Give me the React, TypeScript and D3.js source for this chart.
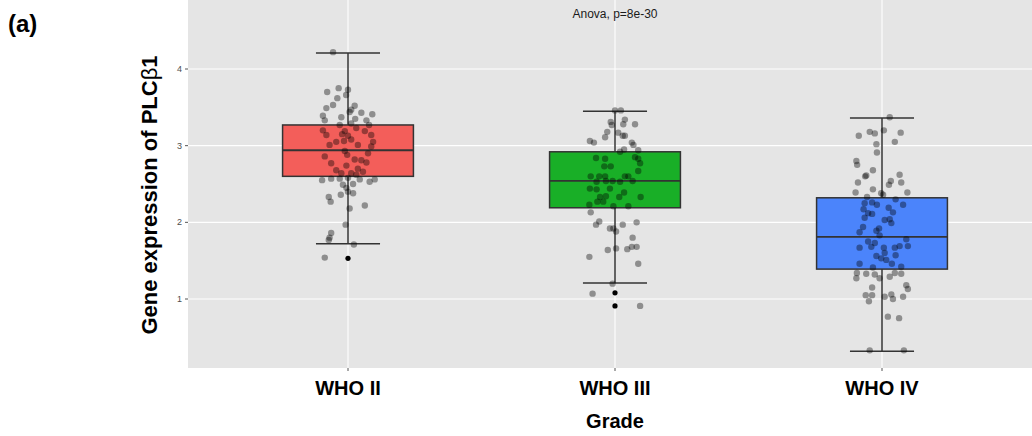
import React, { useRef, useEffect } from 'react';
import * as d3 from 'd3';

const categories = ['WHO II', 'WHO III', 'WHO IV'];
const fills = ['#F35E5A', '#19AF27', '#4B84FB'];
const yTicks = [1, 2, 3, 4];

// box stats: [whisker low, q1, median, q3, whisker high]
const boxStats = [
  [1.72, 2.60, 2.94, 3.27, 4.21],
  [1.21, 2.19, 2.54, 2.92, 3.45],
  [0.32, 1.39, 1.81, 2.32, 3.36],
];
const outliers = [[1.53], [1.08, 0.91], []];

// jittered points, values and their jitter (-1..1 of the jitter width)
const whoIIValues = [4.22, 3.70, 3.75, 3.73, 3.66, 3.62, 3.53, 3.52, 3.49, 3.47, 3.44, 3.43, 3.41, 3.39, 3.37, 3.35, 3.33, 3.33, 3.29, 3.27, 3.27, 3.23, 3.20, 3.19, 3.19, 3.14, 3.15, 3.13, 3.14, 3.05, 3.08, 3.06, 3.05, 3.01, 3.01, 2.99, 2.93, 2.90, 2.86, 2.88, 2.82, 2.81, 2.78, 2.77, 2.74, 2.70, 2.68, 2.66, 2.64, 2.64, 2.62, 2.55, 2.57, 2.57, 2.58, 2.56, 2.53, 2.56, 2.49, 2.50, 2.45, 2.36, 2.38, 2.40, 2.33, 2.27, 2.18, 2.22, 1.97, 1.86, 1.80, 1.77, 1.71, 1.54];
const whoIIJitter = [-0.56, -0.78, -0.35, 0, -0.07, -0.40, -0.56, 0.25, -0.81, 0.12, 0.06, 0.50, 0.91, -0.94, -0.25, 0.27, -0.87, 0.69, 0.12, -0.31, 0.79, 0.31, -0.94, -0.12, 0.63, -0.81, -0.22, 0, 0.87, -0.44, 0.12, -0.15, 0.94, -0.69, 0.37, 0.87, -0.12, 0.75, -0.87, -0.03, 0.25, 0.50, 0.69, -0.63, -0.06, 0.37, -0.44, 0.56, -0.25, 0.12, 0.31, -0.97, -0.63, -0.31, 0, 0.44, 0.81, 1.0, -0.19, 0.19, -0.06, -0.27, 0.19, 0, -0.72, -0.65, 0.06, 0.63, -0.09, -0.63, -0.69, -0.72, 0.22, -0.87];

const whoIIIValues = [3.46, 3.46, 3.34, 3.31, 3.27, 3.28, 3.28, 3.18, 3.17, 3.13, 3.13, 3.11, 3.06, 3.04, 3.04, 3.01, 2.95, 2.92, 2.94, 2.84, 2.83, 2.85, 2.83, 2.77, 2.73, 2.73, 2.67, 2.60, 2.60, 2.60, 2.60, 2.60, 2.53, 2.54, 2.54, 2.53, 2.54, 2.44, 2.44, 2.43, 2.33, 2.34, 2.39, 2.33, 2.33, 2.27, 2.27, 2.23, 2.21, 2.21, 2.13, 2.01, 1.97, 1.92, 1.92, 1.97, 2.00, 1.88, 1.80, 1.68, 1.68, 1.65, 1.66, 1.64, 1.55, 1.46, 1.20, 1.07, 0.91];
const whoIIIJitter = [0, 0.22, 0.37, -0.16, -0.12, 0.31, 0.75, -0.29, 0.12, 0.29, 0.37, -0.37, -0.94, -0.79, 0.63, 0.69, 0.34, 0.19, 0.87, -0.71, -0.37, 0.75, 0.87, 0.94, -0.40, -0.16, 0.87, -0.91, -0.59, -0.37, 0.37, 0.50, -0.69, -0.34, -0.09, 0.19, 0.66, -0.94, -0.19, -0.69, -0.56, -0.34, 0.34, 0.16, 0.96, -0.66, -0.44, -0.96, -0.06, 0.50, -0.91, -0.59, -0.71, -0.19, -0.06, 0.29, 0.81, 0.04, 0.66, 0.63, 0.81, 0.46, 0.04, -0.27, -0.96, 0.87, -0.09, -0.84, 0.94];

const whoIVValues = [3.37, 3.13, 3.18, 3.16, 3.20, 3.17, 3.05, 3.02, 2.91, 2.80, 2.75, 2.68, 2.61, 2.60, 2.62, 2.52, 2.54, 2.52, 2.49, 2.43, 2.39, 2.38, 2.39, 2.33, 2.36, 2.30, 2.25, 2.26, 2.23, 2.23, 2.17, 2.19, 2.12, 2.11, 2.13, 2.06, 2.03, 2.04, 1.99, 1.94, 1.92, 1.87, 1.89, 1.83, 1.78, 1.75, 1.73, 1.68, 1.67, 1.67, 1.67, 1.69, 1.69, 1.56, 1.60, 1.57, 1.53, 1.51, 1.46, 1.46, 1.42, 1.41, 1.34, 1.33, 1.32, 1.33, 1.34, 1.27, 1.27, 1.29, 1.18, 1.13, 1.15, 1.05, 1.05, 0.97, 1.03, 1.06, 1.00, 1.03, 0.77, 0.75, 0.33, 0.33];
const whoIVJitter = [0.29, -0.87, -0.46, -0.27, 0.07, 0.70, 0.48, -0.21, -0.19, -0.96, -0.93, -0.34, -0.59, -0.63, 0.66, -0.90, 0.33, 0.72, 0.26, -0.34, -0.99, -0.03, 0.95, -0.56, 0.04, 0.51, -0.65, -0.37, -0.19, 0.79, -0.69, 0.25, -0.52, -0.37, 0.41, -0.65, 0.10, 0.29, 0.35, -0.71, -0.11, -0.84, -0.21, -0.09, 0.91, -0.52, -0.27, -0.40, -0.84, 0.07, 0.48, 0.66, 0.97, -0.21, 0.10, 0.51, -0.03, 0.16, 0.37, -0.84, 0.72, -0.34, -0.94, -0.59, -0.27, 0.72, 0.48, -0.96, -0.09, 0.29, 0.91, 0.97, -0.37, -0.61, -0.37, -0.49, 0.10, 0.35, 0.41, 0.79, 0.22, 0.64, -0.46, 0.82];

const pointValues = [whoIIValues, whoIIIValues, whoIVValues];
const pointJitter = [whoIIJitter, whoIIIJitter, whoIVJitter];

const font = "'Liberation Sans', Arial, sans-serif";

const BoxChart = () => {
  const chartRef = useRef<HTMLDivElement>(null);

  useEffect(() => {
    const W = 1032;
    const H = 436;
    const panel = { left: 188, right: 1032, top: 0, bottom: 368 };

    d3.select(chartRef.current).select('svg').remove();
    const svg = d3
      .select(chartRef.current)
      .append('svg')
      .attr('width', W)
      .attr('height', H)
      .style('position', 'absolute')
      .style('left', 0)
      .style('top', 0)
      .style('font-family', font);

    const xScale = d3.scalePoint<string>().domain(categories).range([348, 882]);
    const step = xScale.step();
    const yScale = d3.scaleLinear().domain([0.1, 4.9]).range([panel.bottom, panel.top]);

    const boxW = step * 0.49;
    const capW = step * 0.24;
    const jitterW = step * 0.1;

    svg
      .append('rect')
      .attr('x', panel.left)
      .attr('y', panel.top)
      .attr('width', panel.right - panel.left)
      .attr('height', panel.bottom - panel.top)
      .attr('fill', '#E5E5E5');

    // grid
    svg
      .selectAll('.hgrid')
      .data(yTicks)
      .enter()
      .append('line')
      .attr('x1', panel.left)
      .attr('x2', panel.right)
      .attr('y1', d => yScale(d))
      .attr('y2', d => yScale(d))
      .attr('stroke', '#FFFFFF')
      .attr('stroke-width', 1.1);

    svg
      .selectAll('.vgrid')
      .data(categories)
      .enter()
      .append('line')
      .attr('x1', d => xScale(d)!)
      .attr('x2', d => xScale(d)!)
      .attr('y1', panel.top)
      .attr('y2', panel.bottom)
      .attr('stroke', '#FFFFFF')
      .attr('stroke-width', 1.1);

    // y axis
    svg
      .selectAll('.ytick')
      .data(yTicks)
      .enter()
      .append('line')
      .attr('x1', panel.left - 3)
      .attr('x2', panel.left)
      .attr('y1', d => yScale(d))
      .attr('y2', d => yScale(d))
      .attr('stroke', '#555');

    svg
      .selectAll('.ylabel')
      .data(yTicks)
      .enter()
      .append('text')
      .attr('x', panel.left - 6)
      .attr('y', d => yScale(d))
      .attr('dy', '0.35em')
      .attr('text-anchor', 'end')
      .style('font-size', 9)
      .style('fill', '#4D4D4D')
      .text(d => d);

    // x axis
    svg
      .selectAll('.xtick')
      .data(categories)
      .enter()
      .append('line')
      .attr('x1', d => xScale(d)!)
      .attr('x2', d => xScale(d)!)
      .attr('y1', panel.bottom)
      .attr('y2', panel.bottom + 3)
      .attr('stroke', '#555');

    svg
      .selectAll('.xlabel')
      .data(categories)
      .enter()
      .append('text')
      .attr('x', d => xScale(d)!)
      .attr('y', 395)
      .attr('text-anchor', 'middle')
      .style('font-size', 20)
      .style('font-weight', 'bold')
      .style('fill', '#000')
      .text(d => d);

    // boxes
    categories.forEach((cat, i) => {
      const cx = xScale(cat)!;
      const [lo, q1, med, q3, hi] = boxStats[i];
      const g = svg.append('g');
      g.append('line')
        .attr('x1', cx).attr('x2', cx)
        .attr('y1', yScale(lo)).attr('y2', yScale(hi))
        .attr('stroke', '#333').attr('stroke-width', 1.5);
      [lo, hi].forEach(v => {
        g.append('line')
          .attr('x1', cx - capW / 2).attr('x2', cx + capW / 2)
          .attr('y1', yScale(v)).attr('y2', yScale(v))
          .attr('stroke', '#333').attr('stroke-width', 1.5);
      });
      g.append('rect')
        .attr('x', cx - boxW / 2)
        .attr('y', yScale(q3))
        .attr('width', boxW)
        .attr('height', yScale(q1) - yScale(q3))
        .attr('fill', fills[i])
        .attr('stroke', '#333')
        .attr('stroke-width', 1.5);
      g.append('line')
        .attr('x1', cx - boxW / 2).attr('x2', cx + boxW / 2)
        .attr('y1', yScale(med)).attr('y2', yScale(med))
        .attr('stroke', '#333').attr('stroke-width', 1.8);
      g.selectAll('.outlier')
        .data(outliers[i])
        .enter()
        .append('circle')
        .attr('cx', cx)
        .attr('cy', d => yScale(d))
        .attr('r', 2.6)
        .attr('fill', '#000');
    });

    // jittered points
    categories.forEach((cat, i) => {
      const cx = xScale(cat)!;
      svg
        .append('g')
        .selectAll('circle')
        .data(pointValues[i])
        .enter()
        .append('circle')
        .attr('cx', (d, k) => cx + pointJitter[i][k] * jitterW)
        .attr('cy', d => yScale(d))
        .attr('r', 3.2)
        .attr('fill', '#000')
        .attr('fill-opacity', 0.38);
    });

    // annotations
    svg
      .append('text')
      .attr('x', xScale('WHO III')!)
      .attr('y', 18)
      .attr('text-anchor', 'middle')
      .style('font-size', 12)
      .style('fill', '#1a1a1a')
      .text('Anova, p=8e-30');

    svg
      .append('text')
      .attr('x', (panel.left + 1042) / 2)
      .attr('y', 428)
      .attr('text-anchor', 'middle')
      .style('font-size', 20)
      .style('font-weight', 'bold')
      .text('Grade');

    const yTitle = svg
      .append('text')
      .attr('transform', 'translate(157,195) rotate(-90)')
      .attr('text-anchor', 'middle')
      .style('font-size', 22)
      .style('font-weight', 'bold');
    yTitle.append('tspan').text('Gene expression of PLC');
    yTitle.append('tspan').style('font-weight', 'normal').text('β');
    yTitle.append('tspan').text('1');

    svg
      .append('text')
      .attr('x', 8)
      .attr('y', 32)
      .style('font-size', 24)
      .style('font-weight', 'bold')
      .text('(a)');
  }, []);

  return <div ref={chartRef} className="box-chart"></div>;
};

export default function App() {
  return <BoxChart />;
}
